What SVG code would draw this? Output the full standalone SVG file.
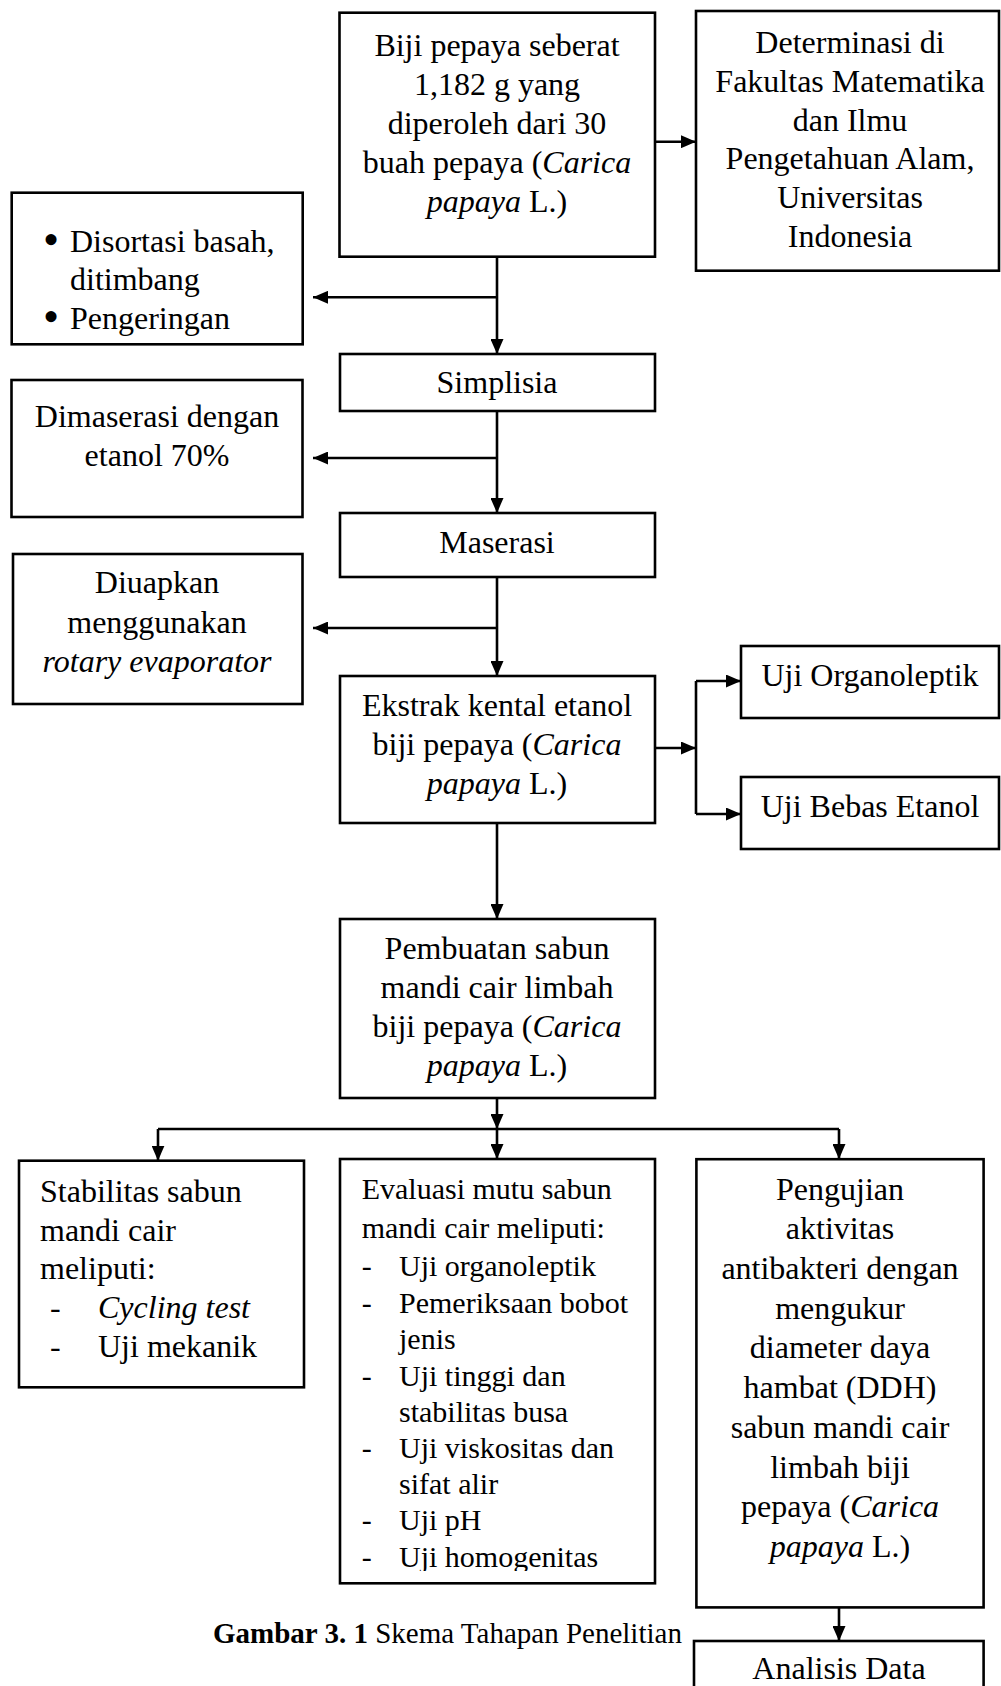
<svg xmlns="http://www.w3.org/2000/svg" width="1001" height="1686" viewBox="0 0 1001 1686">
<defs>
<style>
.box{fill:#fff;stroke:#000;stroke-width:2.6}
.t{font-family:"Liberation Serif","Times New Roman",serif;font-size:32px;fill:#000}
.c{text-anchor:middle}
.s{font-size:30px}
.cap{font-size:29px}
.i{font-style:italic}
.b{font-size:46px}
.conn{stroke:#000;stroke-width:2.6;fill:none}
</style>
<marker id="ah" markerUnits="userSpaceOnUse" markerWidth="15" markerHeight="13" refX="15" refY="6.5" orient="auto">
<path d="M0,0 L15,6.5 L0,13 z" fill="#000"/>
</marker>
<clipPath id="evclip"><rect x="340" y="1159" width="315" height="412"/></clipPath>
</defs>
<rect width="1001" height="1686" fill="#fff"/>

<g id="connectors">
<path class="conn" d="M655,141.7 H696" marker-end="url(#ah)"/>
<path class="conn" d="M497,256.7 V354" marker-end="url(#ah)"/>
<path class="conn" d="M497,297.3 H313" marker-end="url(#ah)"/>
<path class="conn" d="M497,411 V513" marker-end="url(#ah)"/>
<path class="conn" d="M497,458 H313" marker-end="url(#ah)"/>
<path class="conn" d="M497,577 V676" marker-end="url(#ah)"/>
<path class="conn" d="M497,628 H313" marker-end="url(#ah)"/>
<path class="conn" d="M655,748 H696" marker-end="url(#ah)"/>
<path class="conn" d="M696,681 V814"/>
<path class="conn" d="M696,681 H741" marker-end="url(#ah)"/>
<path class="conn" d="M696,814 H741" marker-end="url(#ah)"/>
<path class="conn" d="M497,823 V919" marker-end="url(#ah)"/>
<path class="conn" d="M497,1098 V1129" marker-end="url(#ah)"/>
<path class="conn" d="M158,1129 H839"/>
<path class="conn" d="M158,1129 V1160.7" marker-end="url(#ah)"/>
<path class="conn" d="M497,1129 V1159" marker-end="url(#ah)"/>
<path class="conn" d="M839,1129 V1159" marker-end="url(#ah)"/>
<path class="conn" d="M839,1607.4 V1641" marker-end="url(#ah)"/>
</g>

<g id="node-biji">
<rect class="box" x="339.5" y="12.7" width="315.5" height="244"/>
<text class="t c" x="497" y="56">Biji pepaya seberat</text>
<text class="t c" x="497" y="95">1,182 g yang</text>
<text class="t c" x="497" y="134">diperoleh dari 30</text>
<text class="t c" x="497" y="173">buah pepaya (<tspan class="i">Carica</tspan></text>
<text class="t c" x="497" y="212"><tspan class="i">papaya</tspan> L.)</text>
</g>

<g id="node-determinasi">
<rect class="box" x="696" y="11" width="303" height="259.7"/>
<text class="t c" x="850" y="53">Determinasi di</text>
<text class="t c" x="850" y="92">Fakultas Matematika</text>
<text class="t c" x="850" y="130.5">dan Ilmu</text>
<text class="t c" x="850" y="169">Pengetahuan Alam,</text>
<text class="t c" x="850" y="208">Universitas</text>
<text class="t c" x="850" y="247">Indonesia</text>
</g>

<g id="node-disortasi">
<rect class="box" x="11.7" y="192.7" width="291" height="151.6"/>
<text class="t b" x="43" y="255">•</text>
<text class="t" x="70" y="251.5">Disortasi basah,</text>
<text class="t" x="70" y="290">ditimbang</text>
<text class="t b" x="43" y="332">•</text>
<text class="t" x="70" y="328.5">Pengeringan</text>
</g>

<g id="node-simplisia">
<rect class="box" x="340" y="354" width="315" height="57"/>
<text class="t c" x="497" y="393">Simplisia</text>
</g>

<g id="node-dimaserasi">
<rect class="box" x="11.5" y="380" width="291" height="137"/>
<text class="t c" x="157" y="427">Dimaserasi dengan</text>
<text class="t c" x="157" y="466">etanol 70%</text>
</g>

<g id="node-maserasi">
<rect class="box" x="340" y="513" width="315" height="64"/>
<text class="t c" x="497" y="553">Maserasi</text>
</g>

<g id="node-diuapkan">
<rect class="box" x="13" y="554" width="289.5" height="150"/>
<text class="t c" x="157" y="593">Diuapkan</text>
<text class="t c" x="157" y="633">menggunakan</text>
<text class="t c i" x="157" y="672">rotary evaporator</text>
</g>

<g id="node-ekstrak">
<rect class="box" x="340" y="676" width="315" height="147"/>
<text class="t c" x="497" y="716">Ekstrak kental etanol</text>
<text class="t c" x="497" y="755">biji pepaya (<tspan class="i">Carica</tspan></text>
<text class="t c" x="497" y="794"><tspan class="i">papaya</tspan> L.)</text>
</g>

<g id="node-organoleptik">
<rect class="box" x="741" y="646" width="258" height="72"/>
<text class="t c" x="870" y="686">Uji Organoleptik</text>
</g>

<g id="node-bebas-etanol">
<rect class="box" x="741" y="777" width="258" height="72"/>
<text class="t c" x="870" y="817">Uji Bebas Etanol</text>
</g>

<g id="node-pembuatan">
<rect class="box" x="340" y="919" width="315" height="179"/>
<text class="t c" x="497" y="959">Pembuatan sabun</text>
<text class="t c" x="497" y="998">mandi cair limbah</text>
<text class="t c" x="497" y="1037">biji pepaya (<tspan class="i">Carica</tspan></text>
<text class="t c" x="497" y="1076"><tspan class="i">papaya</tspan> L.)</text>
</g>

<g id="node-stabilitas">
<rect class="box" x="19" y="1160.7" width="285" height="226.6"/>
<text class="t" x="40" y="1201.7">Stabilitas sabun</text>
<text class="t" x="40" y="1240.7">mandi cair</text>
<text class="t" x="40" y="1279.3">meliputi:</text>
<text class="t" x="50" y="1318.3">-</text>
<text class="t i" x="98" y="1318.3">Cycling test</text>
<text class="t" x="50" y="1356.7">-</text>
<text class="t" x="98" y="1356.7">Uji mekanik</text>
</g>

<g id="node-evaluasi">
<rect class="box" x="340" y="1159" width="315" height="424.3"/>
<g clip-path="url(#evclip)">
<text class="t s" x="361.7" y="1199.3">Evaluasi mutu sabun</text>
<text class="t s" x="361.7" y="1238">mandi cair meliputi:</text>
<text class="t s" x="361.7" y="1276">-</text>
<text class="t s" x="399" y="1276">Uji organoleptik</text>
<text class="t s" x="361.7" y="1312.7">-</text>
<text class="t s" x="399" y="1312.7">Pemeriksaan bobot</text>
<text class="t s" x="399" y="1348.5">jenis</text>
<text class="t s" x="361.7" y="1386">-</text>
<text class="t s" x="399" y="1386">Uji tinggi dan</text>
<text class="t s" x="399" y="1421.7">stabilitas busa</text>
<text class="t s" x="361.7" y="1458.3">-</text>
<text class="t s" x="399" y="1458.3">Uji viskositas dan</text>
<text class="t s" x="399" y="1493.5">sifat alir</text>
<text class="t s" x="361.7" y="1530">-</text>
<text class="t s" x="399" y="1530">Uji pH</text>
<text class="t s" x="361.7" y="1566.7">-</text>
<text class="t s" x="399" y="1566.7">Uji homogenitas</text>
</g>
</g>

<g id="node-pengujian">
<rect class="box" x="696.4" y="1159.2" width="287.2" height="448.2"/>
<text class="t c" x="840" y="1199.6">Pengujian</text>
<text class="t c" x="840" y="1239.3">aktivitas</text>
<text class="t c" x="840" y="1279">antibakteri dengan</text>
<text class="t c" x="840" y="1318.7">mengukur</text>
<text class="t c" x="840" y="1358.4">diameter daya</text>
<text class="t c" x="840" y="1398.1">hambat (DDH)</text>
<text class="t c" x="840" y="1437.8">sabun mandi cair</text>
<text class="t c" x="840" y="1477.5">limbah biji</text>
<text class="t c" x="840" y="1517.2">pepaya (<tspan class="i">Carica</tspan></text>
<text class="t c" x="840" y="1556.9"><tspan class="i">papaya</tspan> L.)</text>
</g>

<g id="node-analisis">
<rect class="box" x="694" y="1641" width="289.6" height="60"/>
<text class="t c" x="839" y="1679">Analisis Data</text>
</g>

<g id="caption">
<text class="t cap" x="213" y="1643"><tspan font-weight="bold">Gambar 3. 1</tspan> Skema Tahapan Penelitian</text>
</g>
</svg>
